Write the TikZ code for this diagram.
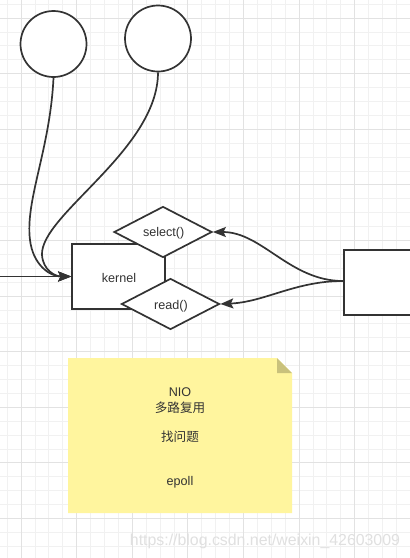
\documentclass[tikz,border=0pt]{standalone}
\usepackage{fontspec}
\setmainfont{Liberation Sans}
\newfontfamily\cjk{Noto Sans CJK SC}
\usetikzlibrary{shapes.geometric,arrows.meta}
\definecolor{gridminor}{HTML}{F1F1F1}
\definecolor{gridmajor}{HTML}{E2E2E2}
\definecolor{ink}{HTML}{333333}
\definecolor{notefill}{HTML}{FFF59E}
\definecolor{notefold}{HTML}{C9C17C}
\definecolor{wmark}{HTML}{E0E0E0}
\begin{document}
\begin{tikzpicture}[x=1pt,y=-1pt,
  every node/.style={font=\fontsize{12.6}{15}\selectfont, text=ink},
  shapeline/.style={draw=ink, line width=1.7pt, fill=white},
  conn/.style={draw=ink, line width=1.7pt, -{Stealth[length=13pt,width=10pt,inset=2.5pt]}},
  ball/.style={shapeline, circle, minimum size=66pt, inner sep=0pt},
  dia/.style={shapeline, diamond, inner sep=0pt, minimum width=98pt, minimum height=51pt, aspect=1.9},
  notetext/.style={font=\fontsize{12.6}{15}\selectfont, text=ink}
]
\useasboundingbox (0,0) rectangle (410,558);
\clip (0,0) rectangle (410,558);
\fill[white] (0,0) rectangle (410,558);
% grid
\foreach \i in {0,...,30} {\draw[gridminor, line width=0.8pt] ({7.1+13.9*\i},0) -- ({7.1+13.9*\i},558);}
\foreach \j in {0,...,40} {\draw[gridminor, line width=0.8pt] (0,{4.1+13.9*\j}) -- (410,{4.1+13.9*\j});}
\foreach \i in {0,...,7} {\draw[gridmajor, line width=0.8pt] ({21+55.6*\i},0) -- ({21+55.6*\i},558);}
\foreach \j in {0,...,9} {\draw[gridmajor, line width=0.8pt] (0,{18+55.6*\j}) -- (410,{18+55.6*\j});}

% shapes
\node[ball] (c1) at (53.5,44) {};
\node[ball] (c2) at (158,38.5) {};
\node[shapeline, rectangle, minimum width=93pt, minimum height=65pt, inner sep=0pt] (kernel) at (118.5,276.5) {};
\node at (119,278) {kernel};
\node[dia] (sel) at (163,232) {};
\node at (163.7,233) {select()};
\node[dia] (rd) at (170.5,304) {};
\node at (171,306) {read()};
\node[shapeline, rectangle, minimum width=80pt, minimum height=65pt, inner sep=0pt, anchor=north west] (box) at (343,249) {};
\coordinate (inL) at (0,276.5);
\coordinate (boxL) at (343,281);

% connectors
\draw[conn] (inL) -- (kernel.west);
\draw[conn] (c1.south) .. controls (50,150) and (25,200) .. (30,240) .. controls (33,265) and (50,276.5) .. (kernel.west);
\draw[conn] (c2.south) .. controls (158,150) and (40,215) .. (42,255) .. controls (43,270) and (55,276.5) .. (kernel.west);
\draw[conn] (boxL) .. controls (290,281) and (262,232) .. (sel.east);
\draw[conn] (boxL) .. controls (295,281) and (265,302) .. (rd.east);

% note
\fill[notefill] (68,358) -- (277,358) -- (292,373) -- (292,513) -- (68,513) -- cycle;
\fill[notefold] (277,358) -- (277,373) -- (292,373) -- cycle;
\node[notetext] (n1) at (180,392) {NIO};
\node[notetext] (n2) at (180,408) {\cjk 多路复用};
\node[notetext] (n3) at (180,437) {\cjk 找问题};
\node[notetext] (n4) at (180,482) {epoll};

% watermark
\node[text=wmark, inner sep=0pt] (wm) at (265,541) {\resizebox{270pt}{!}{https://blog.csdn.net/weixin\_42603009}};
\end{tikzpicture}
\end{document}
